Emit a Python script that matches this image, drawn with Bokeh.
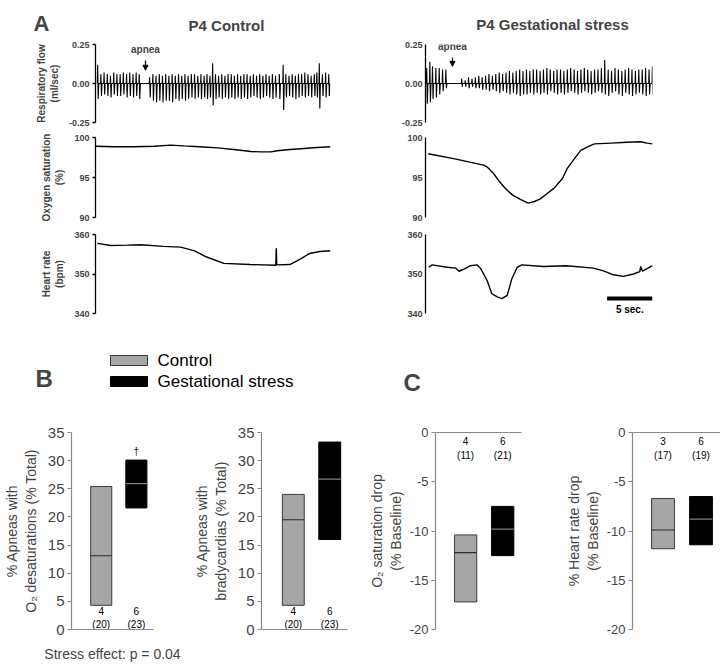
from bokeh.plotting import figure
from bokeh.layouts import column, row
from bokeh.models import (Label, Arrow, NormalHead, FixedTicker, Range1d, LinearAxis,
                          NumeralTickFormatter)
from bokeh.core.properties import value
from bokeh.embed import file_html
from bokeh.resources import INLINE

FONT = "Liberation Sans"

# ---------------- Panel A data (time in seconds) ----------------
# Respiratory flow, P4 control: breath times, inspiratory peak, expiratory peak (ml/sec)
RESP_C_T = [0.20, 0.56, 0.91, 1.27, 1.62, 1.98, 2.33, 2.69, 3.04, 3.40,
            3.75, 4.11, 4.46, 4.80, 5.95, 6.31, 6.66, 7.02, 7.37, 7.73,
            8.08, 8.44, 8.79, 9.15, 9.50, 9.86, 10.21, 10.57, 10.92, 11.28,
            11.63, 11.98, 12.30, 12.62, 12.92, 13.24, 13.58, 13.93, 14.28, 14.63,
            14.98, 15.33, 15.68, 16.03, 16.38, 16.73, 17.08, 17.43, 17.78, 18.13,
            18.48, 18.83, 19.18, 19.53, 19.88, 20.30, 20.72, 21.02, 21.37, 21.72,
            22.07, 22.42, 22.77, 23.12, 23.47, 23.82, 24.17, 24.45, 24.72, 25.07,
            25.42, 25.77]
RESP_C_POS = [0.12, 0.06, 0.07, 0.06, 0.05, 0.07, 0.06, 0.06, 0.07, 0.06,
              0.07, 0.06, 0.07, 0.06, 0.04, 0.06, 0.05, 0.06, 0.05, 0.06,
              0.05, 0.06, 0.05, 0.06, 0.05, 0.06, 0.05, 0.06, 0.06, 0.05,
              0.06, 0.05, 0.06, 0.05, 0.13, 0.06, 0.05, 0.06, 0.05, 0.06,
              0.06, 0.05, 0.06, 0.05, 0.06, 0.06, 0.05, 0.06, 0.05, 0.06,
              0.05, 0.06, 0.05, 0.06, 0.05, 0.06, 0.12, 0.06, 0.05, 0.06,
              0.05, 0.06, 0.06, 0.07, 0.06, 0.05, 0.06, 0.07, 0.13, 0.06,
              0.07, 0.06]
RESP_C_NEG = [-0.10, -0.08, -0.07, -0.08, -0.09, -0.07, -0.08, -0.08, -0.07, -0.09,
              -0.08, -0.09, -0.08, -0.10, -0.09, -0.11, -0.12, -0.11, -0.12, -0.11,
              -0.11, -0.12, -0.10, -0.11, -0.10, -0.11, -0.10, -0.09, -0.10, -0.09,
              -0.10, -0.09, -0.10, -0.09, -0.14, -0.10, -0.09, -0.10, -0.09, -0.10,
              -0.09, -0.10, -0.09, -0.10, -0.09, -0.10, -0.09, -0.08, -0.09, -0.10,
              -0.09, -0.08, -0.09, -0.10, -0.09, -0.10, -0.17, -0.09, -0.08, -0.09,
              -0.10, -0.09, -0.08, -0.09, -0.08, -0.09, -0.08, -0.09, -0.16, -0.08,
              -0.09, -0.08]

# Respiratory flow, P4 gestational stress
RESP_S_T = [0.10, 0.44, 0.73, 1.10, 1.47, 1.84, 2.20,
            3.95, 4.33, 4.70, 5.08, 5.45, 5.83, 6.20, 6.58, 6.95, 7.33,
            7.70, 8.08, 8.45, 8.83, 9.20, 9.58, 9.95, 10.33, 10.70, 11.08,
            11.45, 11.83, 12.20, 12.58, 12.95, 13.33, 13.70, 14.08, 14.45, 14.83,
            15.20, 15.58, 15.95, 16.33, 16.70, 17.08, 17.45, 17.83, 18.20, 18.58,
            18.95, 19.33, 19.70, 20.08, 20.45, 20.83, 21.20, 21.58, 21.95, 22.33,
            22.70, 23.08, 23.45, 23.83, 24.20, 24.58, 24.95]
RESP_S_POS = [0.10, 0.14, 0.11, 0.10, 0.10, 0.09, 0.09,
              0.03, 0.02, 0.04, 0.03, 0.04, 0.05, 0.04, 0.05, 0.06, 0.05,
              0.06, 0.07, 0.06, 0.07, 0.08, 0.07, 0.08, 0.09, 0.08, 0.09,
              0.08, 0.09, 0.09, 0.08, 0.09, 0.10, 0.09, 0.08, 0.09, 0.09,
              0.08, 0.09, 0.10, 0.09, 0.08, 0.09, 0.10, 0.09, 0.08, 0.09,
              0.09, 0.10, 0.15, 0.09, 0.08, 0.10, 0.09, 0.08, 0.09, 0.10,
              0.09, 0.08, 0.09, 0.09, 0.10, 0.09, 0.11]
RESP_S_NEG = [-0.13, -0.12, -0.10, -0.09, -0.07, -0.05, -0.03,
              -0.02, -0.02, -0.03, -0.02, -0.03, -0.03, -0.04, -0.04, -0.05, -0.04,
              -0.05, -0.06, -0.05, -0.06, -0.07, -0.06, -0.07, -0.08, -0.07, -0.07,
              -0.06, -0.07, -0.06, -0.07, -0.06, -0.07, -0.05, -0.06, -0.07, -0.06,
              -0.07, -0.06, -0.05, -0.06, -0.07, -0.06, -0.05, -0.06, -0.07, -0.06,
              -0.05, -0.06, -0.07, -0.08, -0.06, -0.05, -0.07, -0.08, -0.06, -0.07,
              -0.08, -0.07, -0.06, -0.07, -0.08, -0.07, -0.07]

APNEA_C_T = 5.53
APNEA_S_T = 2.97

# Oxygen saturation (%)
SAT_C_T = [0.0, 2.0, 4.2, 6.5, 8.3, 9.8, 11.5, 13.5, 15.3, 17.2, 18.3, 19.4, 20.1, 21.5, 22.7, 24.5, 26.0]
SAT_C = [98.9, 98.85, 98.85, 98.9, 99.05, 98.95, 98.85, 98.7, 98.5, 98.25, 98.2, 98.2, 98.35, 98.5, 98.6, 98.75, 98.85]
SAT_S_T = [0.3, 3.1, 6.4, 6.8, 7.5, 8.2, 8.9, 9.6, 10.4, 11.3, 12.0, 12.6, 13.3, 14.2,
           15.1, 15.6, 16.3, 17.1, 17.8, 18.6, 20.4, 22.2, 23.7, 24.4, 25.0]
SAT_S = [97.97, 97.36, 96.54, 96.3, 95.5, 94.4, 93.5, 92.8, 92.3, 91.8, 92.0, 92.3, 92.9, 93.7,
         94.9, 96.1, 97.2, 98.4, 98.8, 99.2, 99.3, 99.4, 99.47, 99.3, 99.2]

# Heart rate (bpm)
HR_C_T = [0.2, 1.7, 3.5, 5.0, 7.5, 9.4, 10.9, 12.3, 14.2, 17.1, 19.95, 20.0, 20.05,
          21.5, 22.6, 23.7, 24.8, 26.0]
HR_C = [357.75, 357.2, 357.3, 357.4, 357.0, 356.8, 355.9, 354.3, 352.7, 352.4, 352.2, 356.5, 352.3,
        352.4, 353.7, 355.2, 355.7, 355.9]
HR_S_T = [0.36, 0.73, 2.4, 3.3, 3.7, 4.2, 4.95, 5.7, 6.1, 6.8, 7.3, 7.9, 8.4, 9.0, 9.5,
          10.1, 10.6, 13.0, 15.5, 18.5, 19.6, 20.7, 21.8, 22.9, 23.6, 23.7, 23.9, 25.0]
HR_S = [351.7, 352.3, 351.7, 351.5, 350.7, 351.2, 352.1, 352.3, 351.3, 348.3, 345.0, 344.2,
        343.75, 344.6, 348.75, 351.7, 352.3, 351.9, 352.1, 351.5, 350.8, 349.8, 349.4, 350.0,
        350.6, 351.9, 350.7, 352.1]
SCALE_BAR_SEC = 5

# ---------------- Panels B and C data ----------------
GROUPS = ["Control", "Gestational stress"]
GROUP_X = [1, 2]
# B: % apneas with O2 desaturations
DESAT_LOW = [4.3, 21.6]
DESAT_MED = [13.1, 25.9]
DESAT_HIGH = [25.4, 30.1]
DESAT_N = [4, 6]
DESAT_EVENTS = [20, 23]
# B: % apneas with bradycardias
BRADY_LOW = [4.3, 16.0]
BRADY_MED = [19.5, 26.7]
BRADY_HIGH = [24.0, 33.3]
BRADY_N = [4, 6]
BRADY_EVENTS = [20, 23]
# C: O2 saturation drop (% baseline)
SATDROP_LOW = [-17.2, -12.5]
SATDROP_MED = [-12.2, -9.8]
SATDROP_HIGH = [-10.4, -7.5]
SATDROP_N = [4, 6]
SATDROP_EVENTS = [11, 21]
# C: heart rate drop (% baseline)
HRDROP_LOW = [-11.8, -11.4]
HRDROP_MED = [-9.9, -8.8]
HRDROP_HIGH = [-6.7, -6.5]
HRDROP_N = [3, 6]
HRDROP_EVENTS = [17, 19]

FILLS = ["#a6a6a6", "#000000"]
EDGES = ["#3a3a3a", "#000000"]
MED_COLORS = ["#2a2a2a", "#808080"]
AXIS_GRAY = "#8a8a8a"
BAR_W = 0.6


def breath_path(t, pos, neg):
    xs, ys = [], []
    for ti, pk, nk in zip(t, pos, neg):
        xs += [ti, ti + 0.04, ti + 0.10, ti + 0.16]
        ys += [0.0, pk, nk, 0.0]
    return xs, ys


def blank_fig(w, h):
    p = figure(width=w, height=h, x_range=Range1d(0, w), y_range=Range1d(0, h),
               output_backend="svg", toolbar_location=None, x_axis_location=None,
               y_axis_location=None, min_border=0)
    p.xgrid.visible = False
    p.ygrid.visible = False
    p.outline_line_color = None
    return p


def trace_fig(width, height, borders, xmax, yr, ticks, fmt, ylabel, tick_out):
    ml, mr, mt, mb = borders
    p = figure(width=width, height=height, x_range=Range1d(0, xmax), y_range=Range1d(*yr),
               output_backend="svg", toolbar_location=None, x_axis_location=None,
               min_border_left=ml, min_border_right=mr, min_border_top=mt, min_border_bottom=mb)
    p.xgrid.visible = False
    p.ygrid.visible = False
    p.outline_line_color = None
    ax = p.yaxis[0]
    ax.ticker = FixedTicker(ticks=ticks)
    if fmt:
        ax.formatter = NumeralTickFormatter(format=fmt)
    ax.axis_line_color = "black"
    ax.axis_line_width = 1.3
    ax.major_tick_out = tick_out
    ax.major_tick_in = 0
    ax.major_tick_line_width = 1.3
    ax.minor_tick_line_color = None
    ax.major_label_text_font = FONT
    ax.major_label_text_font_size = "9px"
    ax.major_label_text_font_style = "bold"
    ax.major_label_standoff = 3
    if ylabel:
        ax.axis_label = ylabel
        ax.axis_label_text_font = FONT
        ax.axis_label_text_font_size = "10px"
        ax.axis_label_text_font_style = "bold"
        ax.axis_label_standoff = 6
    return p


def apnea_mark(p, t, ytext, y0, y1):
    p.add_layout(Label(x=t, y=ytext, text="apnea", text_align="center", text_font=FONT,
                       text_font_size="10px", text_font_style="bold"))
    p.add_layout(Arrow(end=NormalHead(size=5, fill_color="black", line_color="black"),
                       x_start=t, y_start=y0, x_end=t, y_end=y1, line_width=1.2))


# ---- header A ----
hA = blank_fig(720, 36)
hA.add_layout(Label(x=33, y=13, text="A", text_baseline="alphabetic", text_font=FONT,
                    text_font_size="22px", text_font_style="bold"))
hA.add_layout(Label(x=226, y=11, text="P4 Control", text_align="center", text_baseline="alphabetic",
                    text_font=FONT, text_font_size="15px", text_font_style="bold"))
hA.add_layout(Label(x=552, y=12, text="P4 Gestational stress", text_align="center",
                    text_baseline="alphabetic", text_font=FONT, text_font_size="15px",
                    text_font_style="bold"))

LB = (95, 30)
RB = (65, 68)

# control traces
rc = trace_fig(360, 92, (LB[0], LB[1], 8, 6), 26, (-0.25, 0.25), [-0.25, 0, 0.25], "0.00",
               "Respiratory flow\n(ml/sec)", 3)
xs, ys = breath_path(RESP_C_T, RESP_C_POS, RESP_C_NEG)
rc.line(xs, ys, line_color="black", line_width=1.1)
apnea_mark(rc, APNEA_C_T, 0.18, 0.147, 0.085)

oc = trace_fig(360, 96, (LB[0], LB[1], 9, 7), 26, (90, 100), [90, 95, 100], None,
               "Oxygen saturation\n(%)", 3)
oc.line(SAT_C_T, SAT_C, line_color="black", line_width=1.4)

hc = trace_fig(360, 106, (LB[0], LB[1], 10, 17), 26, (340, 360), [340, 350, 360], None,
               "Heart rate\n(bpm)", 3)
hc.line(HR_C_T, HR_C, line_color="black", line_width=1.4)

# stress traces
rs = trace_fig(360, 92, (RB[0], RB[1], 8, 6), 25, (-0.25, 0.25), [-0.25, 0, 0.25], "0.00", None, 0)
xs, ys = breath_path(RESP_S_T, RESP_S_POS, RESP_S_NEG)
rs.line(xs, ys, line_color="black", line_width=1.1)
apnea_mark(rs, APNEA_S_T, 0.2, 0.167, 0.11)

os_ = trace_fig(360, 96, (RB[0], RB[1], 9, 7), 25, (90, 100), [90, 95, 100], None, None, 0)
os_.line(SAT_S_T, SAT_S, line_color="black", line_width=1.4)

hs = trace_fig(360, 106, (RB[0], RB[1], 10, 17), 25, (340, 360), [340, 350, 360], None, None, 0)
hs.line(HR_S_T, HR_S, line_color="black", line_width=1.4)
bar_end = HR_S_T[-1]
hs.segment(x0=[bar_end - SCALE_BAR_SEC], x1=[bar_end], y0=[343.8], y1=[343.8],
           line_color="black", line_width=4)
hs.text(x=[bar_end - SCALE_BAR_SEC / 2], y=[341.0], text=[f"{SCALE_BAR_SEC} sec."],
        text_align="center", text_baseline="alphabetic", text_font=value(FONT),
        text_font_size="10px", text_font_style="bold")

# ---- header B / C with legend ----
hB = blank_fig(720, 70)
hB.add_layout(Label(x=35, y=22, text="B", text_baseline="alphabetic", text_font=FONT,
                    text_font_size="24px", text_font_style="bold"))
hB.add_layout(Label(x=403, y=18, text="C", text_baseline="alphabetic", text_font=FONT,
                    text_font_size="24px", text_font_style="bold"))
LEG_X0, LEG_W, LEG_H, LEG_Y0, LEG_DY = 110, 37, 10, 40, 21
leg_y = [LEG_Y0 - LEG_DY * i for i in range(len(GROUPS))]
hB.quad(left=[LEG_X0] * len(GROUPS), right=[LEG_X0 + LEG_W] * len(GROUPS),
        bottom=[y - LEG_H / 2 for y in leg_y], top=[y + LEG_H / 2 for y in leg_y],
        fill_color=FILLS, line_color=EDGES, line_width=1)
hB.text(x=[LEG_X0 + LEG_W + 10] * len(GROUPS), y=leg_y, text=GROUPS, text_baseline="middle",
        text_font=value(FONT), text_font_size="17px")


def box_fig(width, borders, xr, yr, yticks, ylabel, xaxis_side, lab_size, tick_size,
            lab_standoff, xlabel=None):
    ml, mr = borders
    p = figure(width=width, height=264, x_range=Range1d(*xr), y_range=Range1d(*yr),
               output_backend="svg", toolbar_location=None, x_axis_location=None,
               min_border_left=ml, min_border_right=mr, min_border_top=32, min_border_bottom=32)
    p.xgrid.visible = False
    p.ygrid.visible = False
    p.outline_line_color = None
    ax = p.yaxis[0]
    ax.ticker = FixedTicker(ticks=yticks)
    ax.formatter = NumeralTickFormatter(format="0")
    ax.axis_line_color = AXIS_GRAY
    ax.axis_line_width = 1.2
    ax.major_tick_line_color = AXIS_GRAY
    ax.major_tick_out = 4
    ax.major_tick_in = 0
    ax.minor_tick_line_color = None
    ax.major_label_text_font = FONT
    ax.major_label_text_font_size = tick_size
    ax.major_label_standoff = 3
    ax.axis_label = ylabel
    ax.axis_label_text_font = FONT
    ax.axis_label_text_font_size = lab_size
    ax.axis_label_text_font_style = "normal"
    ax.axis_label_standoff = lab_standoff
    xa = LinearAxis(ticker=FixedTicker(ticks=[]), axis_line_color=AXIS_GRAY, axis_line_width=1.2,
                    major_tick_line_color=None, minor_tick_line_color=None,
                    major_label_text_font_size="0px", major_label_standoff=0)
    if xlabel:
        xa.axis_label = xlabel
        xa.axis_label_text_font = FONT
        xa.axis_label_text_font_size = "14px"
        xa.axis_label_text_font_style = "normal"
        xa.axis_label_standoff = 16
    p.add_layout(xa, xaxis_side)
    return p


def draw_boxes(p, low, med, high, n, ev, n_y):
    p.vbar(x=GROUP_X, width=BAR_W, bottom=low, top=high, fill_color=FILLS,
           line_color=EDGES, line_width=1)
    p.segment(x0=[x - BAR_W / 2 for x in GROUP_X], x1=[x + BAR_W / 2 for x in GROUP_X],
              y0=med, y1=med, line_color=MED_COLORS, line_width=1.2)
    p.text(x=GROUP_X, y=[n_y] * len(GROUP_X), text=[f"{a}\n({b})" for a, b in zip(n, ev)],
           text_align="center", text_baseline="top", text_font=value(FONT),
           text_font_size="10px", text_line_height=1.2)


b1 = box_fig(190, (62, 37), (0.154, 2.487), (0, 35), [0, 5, 10, 15, 20, 25, 30, 35],
             "% Apneas with\nO\u2082 desaturations (% Total)", "below", "14px", "15px", 6,
             xlabel="Stress effect: p = 0.04")
draw_boxes(b1, DESAT_LOW, DESAT_MED, DESAT_HIGH, DESAT_N, DESAT_EVENTS, 4.2)
b1.text(x=[GROUP_X[1]], y=[DESAT_HIGH[1] + 0.6], text=["\u2020"], text_align="center",
        text_baseline="bottom", text_font=value(FONT), text_font_size="10px")

b2 = box_fig(175, (65, 18), (0.128, 2.487), (0, 35), [0, 5, 10, 15, 20, 25, 30, 35],
             "% Apneas with\nbradycardias (% Total)", "below", "14px", "15px", 6)
draw_boxes(b2, BRADY_LOW, BRADY_MED, BRADY_HIGH, BRADY_N, BRADY_EVENTS, 4.2)

c1 = box_fig(195, (69, 39), (0.187, 2.507), (-20, 0), [-20, -15, -10, -5, 0],
             "O\u2082 saturation drop\n(% Baseline)", "above", "14px", "13px", 3)
draw_boxes(c1, SATDROP_LOW, SATDROP_MED, SATDROP_HIGH, SATDROP_N, SATDROP_EVENTS, -0.4)

c2 = box_fig(160, (72, 0), (0.197, 2.513), (-20, 0), [-20, -15, -10, -5, 0],
             "% Heart rate drop\n(% Baseline)", "above", "14px", "13px", 3)
draw_boxes(c2, HRDROP_LOW, HRDROP_MED, HRDROP_HIGH, HRDROP_N, HRDROP_EVENTS, -0.4)

layout = column(
    hA,
    row(column(rc, oc, hc), column(rs, os_, hs)),
    hB,
    row(b1, b2, c1, c2),
)

open("out.html", "w").write(file_html(layout, INLINE))
